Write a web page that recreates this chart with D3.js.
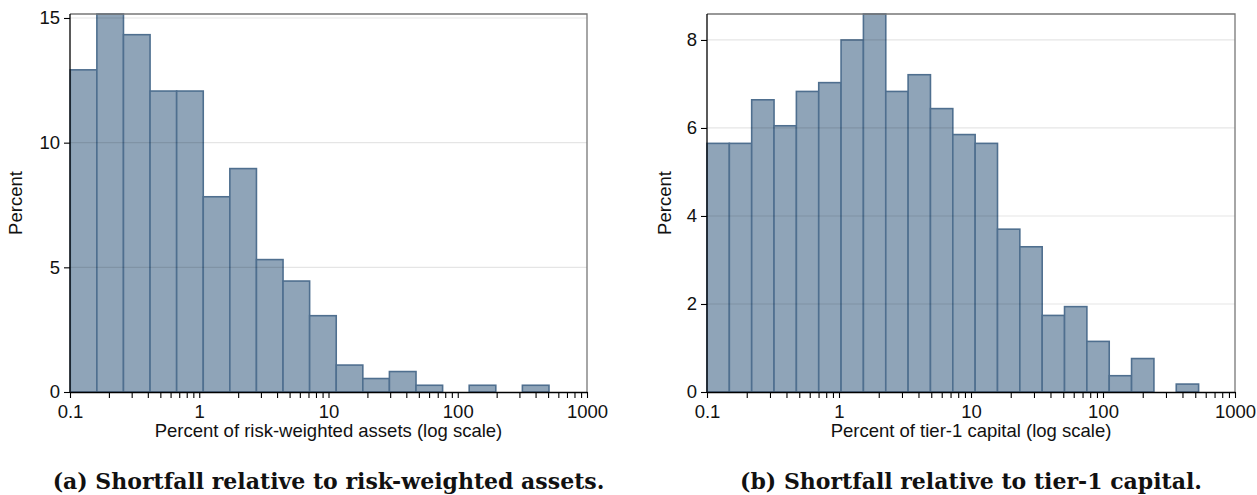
<!DOCTYPE html>
<html>
<head>
<meta charset="utf-8">
<script src="https://cdn.jsdelivr.net/npm/d3@7"></script>
<style>
  body { margin: 0; background: #fff; }
  text { font-family: "Liberation Sans", Arial, sans-serif; fill: #111; }
  .caption { font-family: "DejaVu Serif", serif; font-weight: bold; }
</style>
</head>
<body>
<svg id="chart" width="1257" height="495"></svg>
<script>
// Panel (a): shortfall / risk-weighted assets, 18 log-spaced bins
var rwaRange = [0.1005, 508];
var rwaPercent = [12.92, 15.16, 14.33, 12.07, 12.07, 7.83, 8.96, 5.31, 4.45,
                  3.06, 1.08, 0.54, 0.82, 0.27, 0, 0.27, 0, 0.27];
var rwaYTicks = [0, 5, 10, 15];

// Panel (b): shortfall / tier-1 capital, 22 log-spaced bins
var t1Range = [0.1, 530];
var t1Percent = [5.65, 5.65, 6.64, 6.05, 6.83, 7.03, 8.0, 8.59, 6.83, 7.21, 6.44,
                 5.85, 5.65, 3.70, 3.30, 1.74, 1.94, 1.15, 0.37, 0.76, 0, 0.18];
var t1YTicks = [0, 2, 4, 6, 8];

var xTickLabels = [0.1, 1, 10, 100, 1000];

var panels = [
  {range: rwaRange, pct: rwaPercent, yTicks: rwaYTicks, left: 70, right: 587, yTitleX: 16,
   xTitle: "Percent of risk-weighted assets (log scale)",
   caption: "(a) Shortfall relative to risk-weighted assets."},
  {range: t1Range, pct: t1Percent, yTicks: t1YTicks, left: 707, right: 1235, yTitleX: 665,
   xTitle: "Percent of tier-1 capital (log scale)",
   caption: "(b) Shortfall relative to tier-1 capital."}
];

var yTop = 14, yBottom = 392, fontSize = 18.5;
var svg = d3.select("#chart");

// every 1..9 times a power of ten, for the minor ticks
var minor = [];
[0.1, 1, 10, 100].forEach(function(p) {
  for (var k = 1; k < 10; k++) minor.push(+(k * p).toPrecision(3));
});
minor.push(1000);

panels.forEach(function(p) {
  var x = d3.scaleLog().domain([0.1, 1000]).range([p.left, p.right]),
      y = d3.scaleLinear().domain([0, d3.max(p.pct)]).range([yBottom, yTop]),
      g = svg.append("g");

  var n = p.pct.length,
      l0 = Math.log10(p.range[0]),
      step = (Math.log10(p.range[1]) - l0) / n,
      bins = p.pct.map(function(v, i) {
        return {x0: Math.pow(10, l0 + i * step), x1: Math.pow(10, l0 + (i + 1) * step), v: v};
      });

  g.selectAll("rect.bar")
      .data(bins.filter(function(d) { return d.v > 0; }))
    .enter().append("rect")
      .attr("class", "bar")
      .attr("x", function(d) { return x(d.x0); })
      .attr("width", function(d) { return x(d.x1) - x(d.x0); })
      .attr("y", function(d) { return y(d.v); })
      .attr("height", function(d) { return yBottom - y(d.v); })
      .attr("fill", "#8fa4b8")
      .attr("stroke", "#4f6f8f")
      .attr("stroke-width", 1.6);

  // grid lines sit over the bars, faintly
  g.selectAll("line.grid")
      .data(p.yTicks.filter(function(t) { return t > 0; }))
    .enter().append("line")
      .attr("x1", p.left).attr("x2", p.right)
      .attr("y1", y).attr("y2", y)
      .attr("stroke", "rgba(0,0,0,0.1)")
      .attr("stroke-width", 1.2);

  // plot region outline (top and right)
  g.append("path")
      .attr("d", "M" + p.left + "," + yTop + "H" + p.right + "V" + yBottom)
      .attr("fill", "none")
      .attr("stroke", "#777")
      .attr("stroke-width", 1.3);

  var xAxis = g.append("g")
      .attr("transform", "translate(0," + yBottom + ")")
      .call(d3.axisBottom(x).tickValues(minor).tickSize(6).tickSizeOuter(0).tickPadding(7)
        .tickFormat(function(d) { return xTickLabels.indexOf(d) >= 0 ? String(d) : ""; }));

  var yAxis = g.append("g")
      .attr("transform", "translate(" + p.left + ",0)")
      .call(d3.axisLeft(y).tickValues(p.yTicks).tickSize(6).tickSizeOuter(0).tickPadding(4));

  [xAxis, yAxis].forEach(function(a) {
    a.attr("font-size", null).attr("font-family", null);
    a.selectAll("text").attr("font-size", fontSize);
    a.select(".domain").attr("stroke", "#000").attr("stroke-width", 1.3);
    a.selectAll(".tick line").attr("stroke", "#000").attr("stroke-width", 1.1);
  });
  // y axis domain spans the full plot height
  yAxis.select(".domain").attr("d", "M0," + yTop + "V" + yBottom);

  g.append("text")
      .attr("x", (p.left + p.right) / 2)
      .attr("y", 437)
      .attr("text-anchor", "middle")
      .attr("font-size", fontSize)
      .text(p.xTitle);

  g.append("text")
      .attr("transform", "translate(" + p.yTitleX + "," + 203 + ") rotate(-90)")
      .attr("text-anchor", "middle")
      .attr("dy", "0.35em")
      .attr("font-size", fontSize)
      .text("Percent");

  g.append("text")
      .attr("class", "caption")
      .attr("x", (p.left + p.right) / 2)
      .attr("y", 489)
      .attr("text-anchor", "middle")
      .attr("font-size", 22)
      .text(p.caption);
});
</script>
</body>
</html>
